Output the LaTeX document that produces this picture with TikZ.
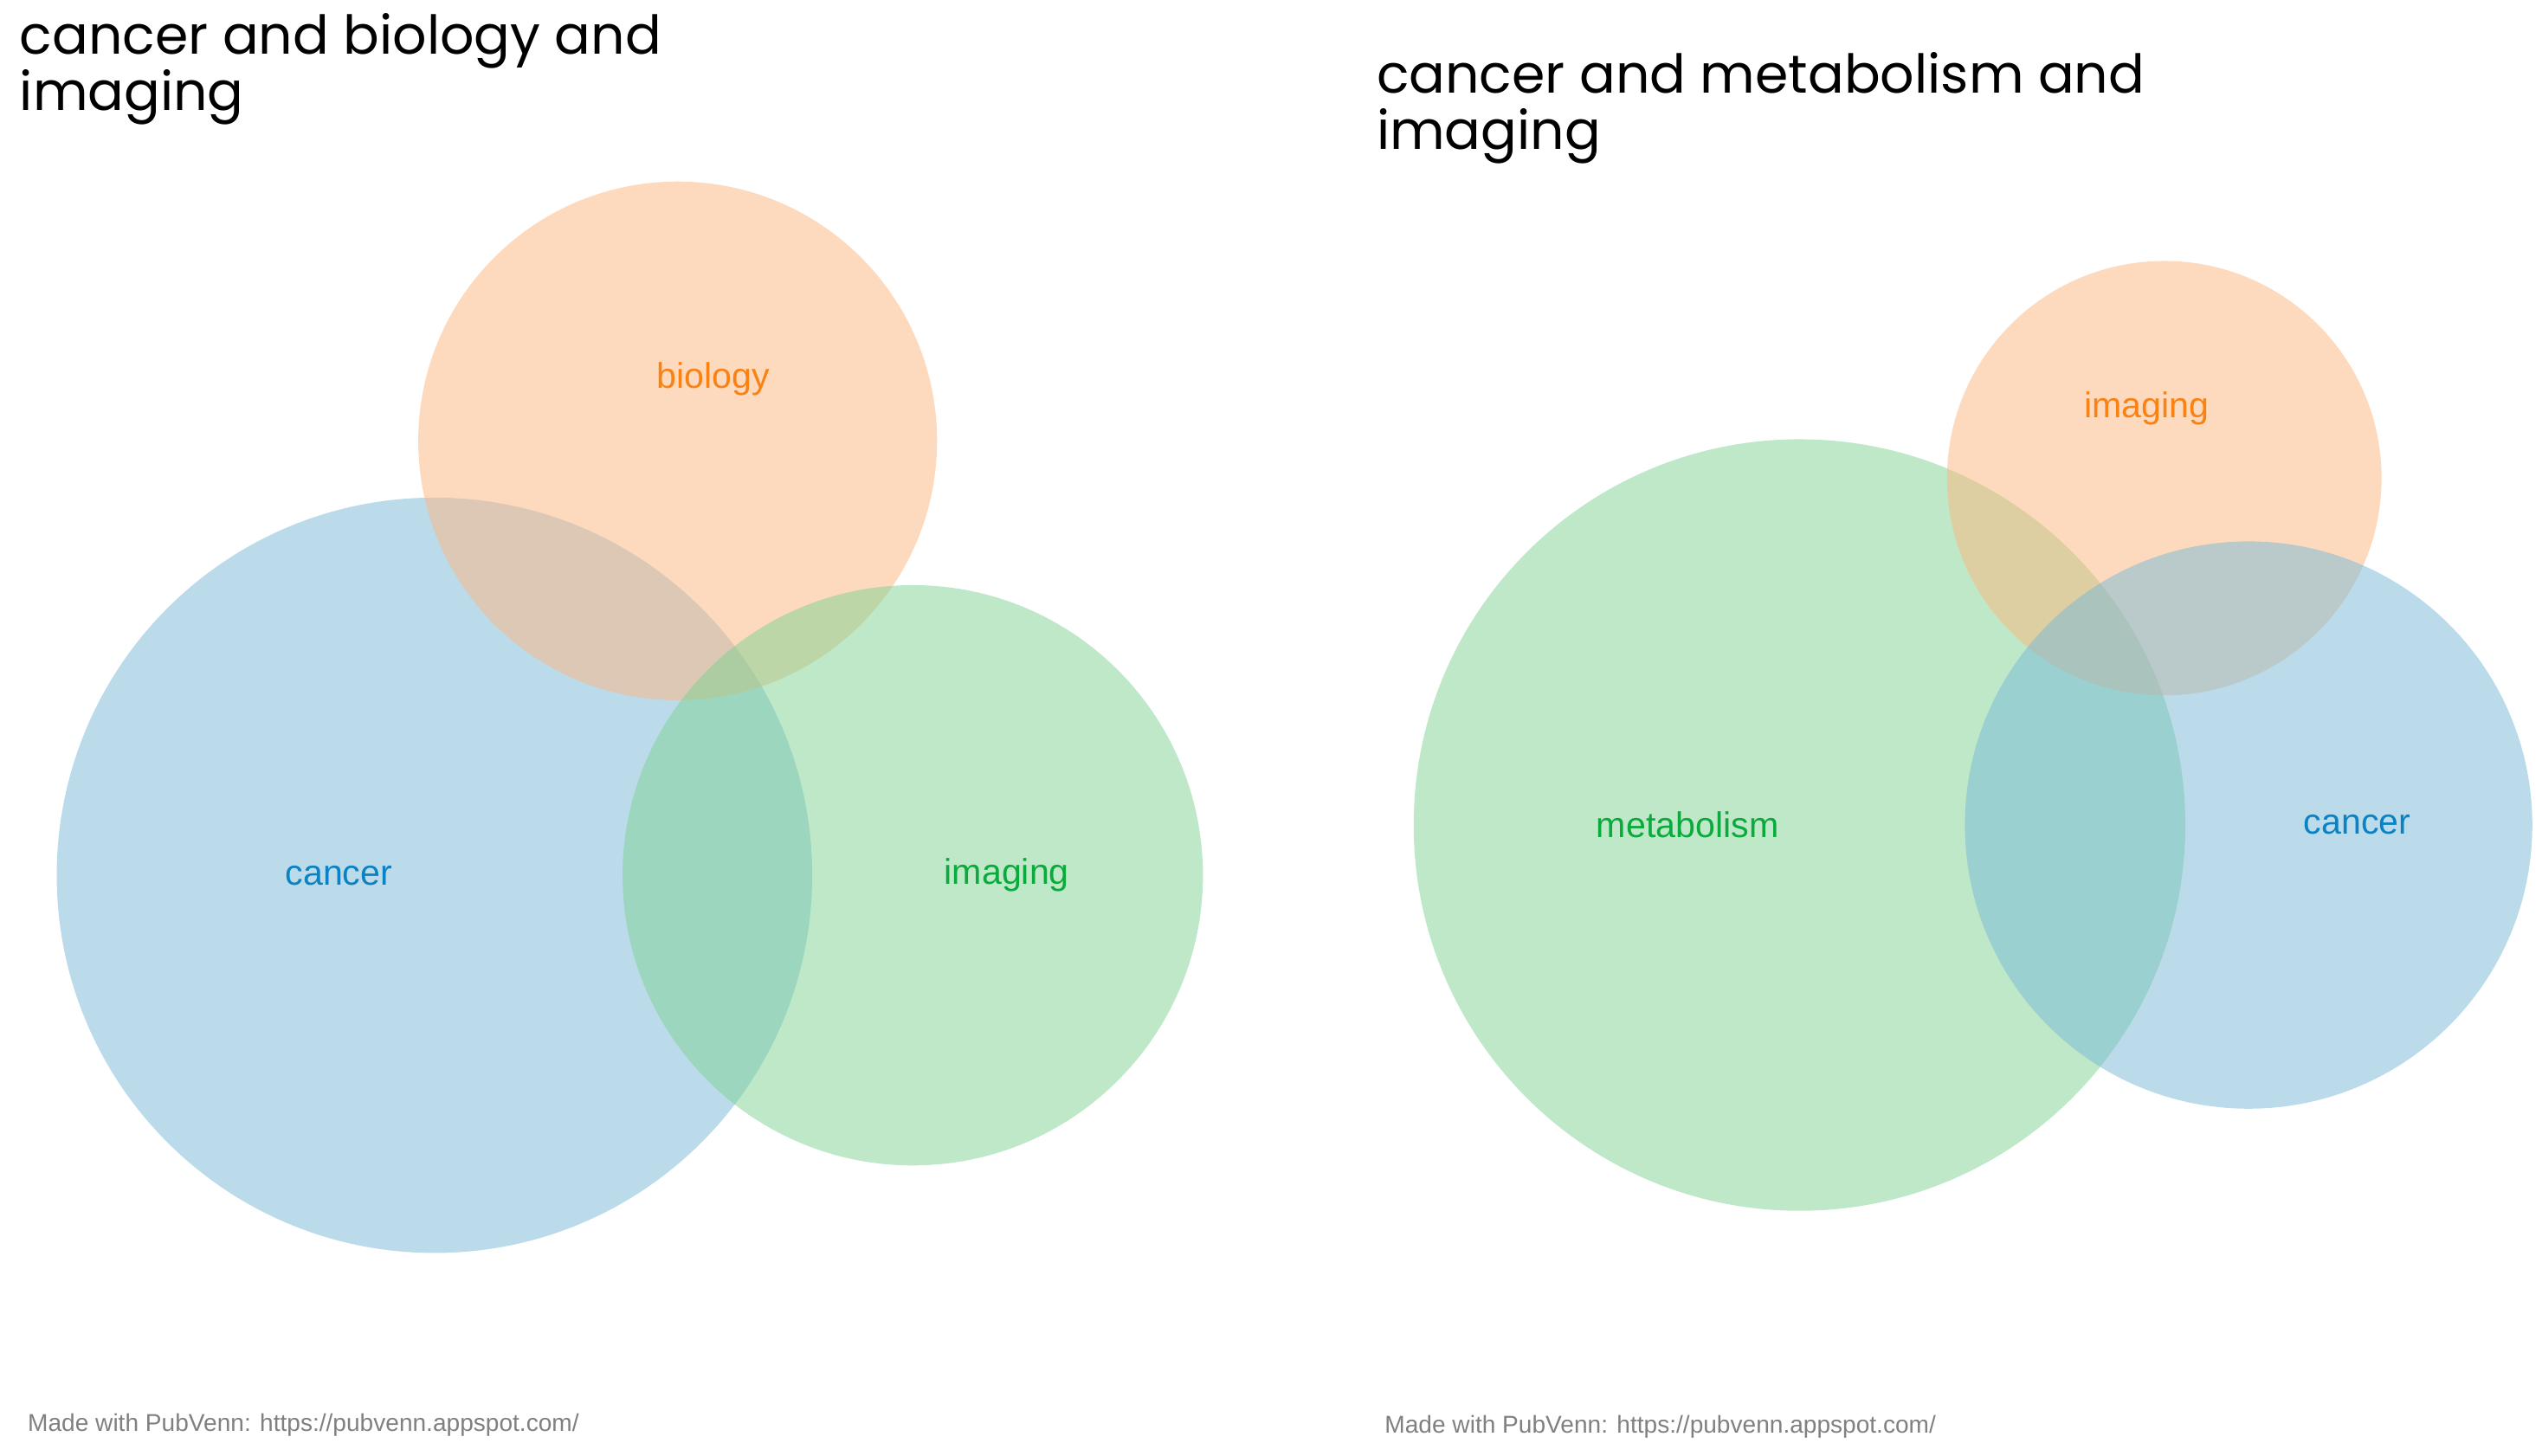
\documentclass[tikz,border=0pt]{standalone}
\usepackage{fontspec}
\setmainfont{Liberation Sans}
\newfontfamily\titlefont{Poppins}
\definecolor{cblue}{RGB}{120,184,215}
\definecolor{corange}{RGB}{252,182,125}
\definecolor{cgreen}{RGB}{126,210,146}
\definecolor{tblue}{RGB}{10,130,195}
\definecolor{torange}{RGB}{250,130,20}
\definecolor{tgreen}{RGB}{10,170,60}
\begin{document}
\begin{tikzpicture}[x=1pt,y=-1pt,
  vc/.style={fill opacity=0.5,draw=none},
  lab/.style={font=\fontsize{22}{24}\selectfont},
  ttl/.style={font=\titlefont\fontsize{33}{35}\selectfont,anchor=north west,align=left,inner sep=0},
  foot/.style={font=\fontsize{15}{17}\selectfont,text=gray,anchor=west,inner sep=0}]
\useasboundingbox (0,0) rectangle (1568,898);
\node[ttl] (t1) at (12,8) {cancer and biology and\\imaging};
\node[ttl] (t2) at (849,32) {cancer and metabolism and\\imaging};
% left
\fill[vc,cblue] (268,540) circle (233);
\fill[vc,corange] (418,272) circle (160);
\fill[vc,cgreen] (563,540) circle (179);
\node[lab,text=torange] (l1) at (440,234) {biology};
\node[lab,text=tblue] (l2) at (209,540) {cancer};
\node[lab,text=tgreen] (l3) at (621,540) {imaging};
% right
\fill[vc,cgreen] (1110,509) circle (238);
\fill[vc,corange] (1335,295) circle (134);
\fill[vc,cblue] (1387,509) circle (175);
\node[lab,text=torange] (r1) at (1324,252) {imaging};
\node[lab,text=tgreen] (r2) at (1041,509) {metabolism};
\node[lab,text=tblue] (r3) at (1454,509) {cancer};
\node[foot] (f1) at (17,879) {Made with PubVenn: https://pubvenn.appspot.com/};
\node[foot] (f2) at (854,880) {Made with PubVenn: https://pubvenn.appspot.com/};
\end{tikzpicture}
\end{document}
